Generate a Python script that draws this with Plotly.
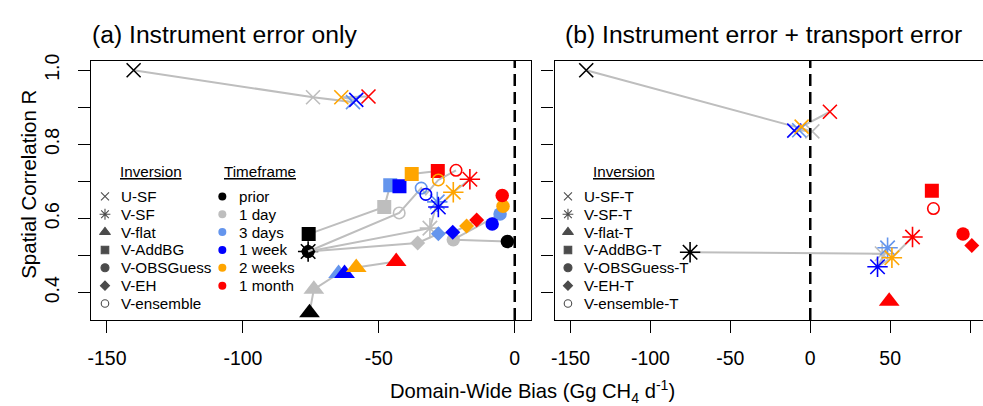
import plotly.graph_objects as go

# ---------------- data ----------------
timeframes = ["prior", "1 day", "3 days", "1 week", "2 weeks", "1 month"]
tf_colors = ["#000000", "#BEBEBE", "#6495ED", "#0000FF", "#FFA500", "#FF0000"]

inversions_a = ["U-SF", "V-SF", "V-flat", "V-AddBG", "V-OBSGuess", "V-EH", "V-ensemble"]
inversions_b = ["U-SF-T", "V-SF-T", "V-flat-T", "V-AddBG-T", "V-OBSGuess-T", "V-EH-T", "V-ensemble-T"]

# panel (a): instrument error only  (order: prior, 1 day, 3 days, 1 week, 2 weeks, 1 month)
usf_bias_a = [-140.2, -74.2, -59.5, -58.3, -63.8, -53.8]
usf_r_a = [1.000, 0.927, 0.914, 0.920, 0.927, 0.929]
vsf_bias_a = [-76.0, -31.2, -28.5, -28.1, -22.6, -16.5]
vsf_r_a = [0.511, 0.574, 0.645, 0.631, 0.671, 0.706]
vflat_bias_a = [-75.5, -73.9, -64.8, -62.6, -58.3, -43.6]
vflat_r_a = [0.346, 0.409, 0.452, 0.452, 0.468, 0.484]
vaddbg_bias_a = [-75.8, -48.0, -45.8, -42.4, -37.9, -28.3]
vaddbg_r_a = [0.558, 0.631, 0.690, 0.687, 0.720, 0.728]
vobs_bias_a = [-2.7, -22.6, -5.4, -8.3, -4.3, -4.6]
vobs_r_a = [0.538, 0.543, 0.612, 0.585, 0.633, 0.662]
veh_bias_a = [-76.0, -35.7, -28.1, -22.8, -17.7, -14.0]
veh_r_a = [0.511, 0.534, 0.559, 0.563, 0.580, 0.596]
vens_bias_a = [-76.0, -42.5, -34.4, -32.7, -28.1, -21.6]
vens_r_a = [0.511, 0.615, 0.682, 0.665, 0.704, 0.730]

# panel (b): instrument error + transport error
usf_bias_b = [-140.2, 1.3, -6.9, -10.0, -5.4, 12.3]
usf_r_b = [1.000, 0.835, 0.838, 0.837, 0.848, 0.888]
vsf_bias_b = [-75.2, 45.0, 48.4, 42.1, 51.1, 64.0]
vsf_r_b = [0.509, 0.505, 0.521, 0.470, 0.494, 0.550]
vflat_bias_b = [None, None, None, None, None, 49.4]
vflat_r_b = [None, None, None, None, None, 0.377]
vaddbg_bias_b = [None, None, None, None, None, 76.1]
vaddbg_r_b = [None, None, None, None, None, 0.675]
vobs_bias_b = [None, None, None, None, None, 95.6]
vobs_r_b = [None, None, None, None, None, 0.558]
veh_bias_b = [None, None, None, None, None, 101.1]
veh_r_b = [None, None, None, None, None, 0.527]
vens_bias_b = [None, None, None, None, None, 77.1]
vens_r_b = [None, None, None, None, None, 0.627]

x_ticks_a = [-150, -100, -50, 0]
x_ticks_b = [-150, -100, -50, 0, 50, 100]
y_ticks = [0.4, 0.6, 0.8, 1.0]
y_ticktext = ["0.4", "0.6", "0.8", "1.0"]

# ---------------- styles ----------------
FONT = "Liberation Sans, Arial, Helvetica, sans-serif"
W, H = 983, 406
GREY_LINE = "#BEBEBE"

symbols = ["x-thin-open", "asterisk-open", "triangle-up", "square", "circle", "diamond", "circle-open"]
sizes = [14, 17, 18, 14, 13.5, 11.5, 11.5]
open_sym = [True, True, False, False, False, False, True]
leg_sizes = [8, 9, 9.5, 7.5, 8, 7, 7.5]

panel_a = [(usf_bias_a, usf_r_a), (vsf_bias_a, vsf_r_a), (vflat_bias_a, vflat_r_a),
           (vaddbg_bias_a, vaddbg_r_a), (vobs_bias_a, vobs_r_a), (veh_bias_a, veh_r_a),
           (vens_bias_a, vens_r_a)]
panel_b = [(usf_bias_b, usf_r_b), (vsf_bias_b, vsf_r_b), (vflat_bias_b, vflat_r_b),
           (vaddbg_bias_b, vaddbg_r_b), (vobs_bias_b, vobs_r_b), (veh_bias_b, veh_r_b),
           (vens_bias_b, vens_r_b)]

fig = go.Figure()


def add_panel(data, names, xa, ya):
    for i, (bx, ry) in enumerate(data):
        fig.add_trace(go.Scatter(x=bx, y=ry, mode="lines", xaxis=xa, yaxis=ya,
                                 line=dict(color=GREY_LINE, width=2),
                                 connectgaps=False, showlegend=False, hoverinfo="skip"))
        fig.add_trace(go.Scatter(
            x=bx, y=ry, mode="markers", xaxis=xa, yaxis=ya, name=names[i],
            text=timeframes, showlegend=False,
            marker=dict(symbol=symbols[i], size=sizes[i], color=tf_colors,
                        line=dict(width=1.6 if open_sym[i] else 0, color=tf_colors))))


add_panel(panel_a, inversions_a, "x", "y")
add_panel(panel_b, inversions_b, "x2", "y2")

# ---------------- legends (overlay pixel axis) ----------------
ROW0, ROW_STEP = 192.7, 18.17
HEADER_Y = 167.7
rows = [ROW0 + i * ROW_STEP for i in range(7)]
LEG_A_SYM_X, LEG_A_TXT_X, LEG_A_HEAD_X = 102.3, 116.0, 148.5
LEG_T_SYM_X, LEG_T_TXT_X, LEG_T_HEAD_X = 220.0, 234.3, 258.0
LEG_B_SYM_X, LEG_B_TXT_X, LEG_B_HEAD_X = 566.7, 580.7, 622.7
LEG_FONT = 15.2

for sx in (LEG_A_SYM_X, LEG_B_SYM_X):
    fig.add_trace(go.Scatter(
        x=[sx] * 7, y=rows, mode="markers", xaxis="x3", yaxis="y3", showlegend=False,
        hoverinfo="skip",
        marker=dict(symbol=symbols, size=leg_sizes, color="black",
                    line=dict(width=1.1, color="black"))))
fig.add_trace(go.Scatter(
    x=[LEG_T_SYM_X] * 6, y=rows[:6], mode="markers", xaxis="x3", yaxis="y3",
    showlegend=False, hoverinfo="skip",
    marker=dict(symbol="circle", size=8, color=tf_colors, line=dict(width=0))))

annotations = []


def pix_text(x, y, text, size, xanchor="left", **kw):
    annotations.append(dict(x=x, y=y, xref="x3", yref="y3", text=text, showarrow=False,
                            xanchor=xanchor, yanchor="middle",
                            font=dict(family=FONT, size=size, color="black"), **kw))


for i, nm in enumerate(inversions_a):
    pix_text(LEG_A_TXT_X, rows[i], nm, LEG_FONT)
for i, nm in enumerate(timeframes):
    pix_text(LEG_T_TXT_X, rows[i], nm, LEG_FONT)
for i, nm in enumerate(inversions_b):
    pix_text(LEG_B_TXT_X, rows[i], nm, LEG_FONT)
pix_text(LEG_A_HEAD_X, HEADER_Y, "<u>Inversion</u>", LEG_FONT, xanchor="center")
pix_text(LEG_T_HEAD_X, HEADER_Y, "<u>Timeframe</u>", LEG_FONT, xanchor="center")
pix_text(LEG_B_HEAD_X, HEADER_Y, "<u>Inversion</u>", LEG_FONT, xanchor="center")

# titles and axis titles
pix_text(87, 27.5, "(a) Instrument error only", 24.7)
pix_text(562, 27.5, "(b) Instrument error + transport error", 24.7)
pix_text(531, 391, "Domain-Wide Bias (Gg CH<sub>4</sub> d<sup>-1</sup>)", 20.2, xanchor="center")
pix_text(26, 180, "Spatial Correlation R", 20.5, xanchor="center", textangle=-90)

# ---------------- shapes ----------------
shapes = [
    dict(type="line", xref="x", yref="y domain", x0=0, x1=0, y0=0, y1=1,
         line=dict(color="black", width=2.5, dash="12px,6px")),
    dict(type="line", xref="x2", yref="y2 domain", x0=0, x1=0, y0=0, y1=1,
         line=dict(color="black", width=2.5, dash="12px,6px")),
]

# ---------------- axes ----------------
px_a = 2.7267
a_left = (104.3 - 6 * px_a) / W
a_right = (513.3 + 6 * px_a) / W
px_b = 1.6028
b_left = (569.3 - 10 * px_b) / W
b_xmax = -160 + (W - 569.3 + 10 * px_b) / px_b
y_dom = [(H - 318.6) / H, (H - 54.9) / H]

tickfont = dict(family=FONT, size=19.5, color="black")
common = dict(showgrid=False, zeroline=False, ticks="outside", ticklen=12, tickwidth=1.2,
              tickcolor="black", showline=True, linecolor="black", linewidth=1.3,
              tickfont=tickfont)
y_minor = dict(ticks="outside", ticklen=12, tickwidth=1.2, tickcolor="black",
               tick0=0.4, dtick=0.1, showgrid=False)
fig.update_layout(
    xaxis=dict(domain=[a_left, a_right], range=[-156, 6], tickvals=x_ticks_a,
               ticktext=[str(v) for v in x_ticks_a], mirror=True, anchor="y",
               ticklabelstandoff=8, **common),
    yaxis=dict(domain=y_dom, range=[0.326, 1.025], tickvals=y_ticks, ticktext=y_ticktext,
               tickangle=-90, mirror=True, anchor="x", ticklabelstandoff=11,
               minor=y_minor, **common),
    xaxis2=dict(domain=[b_left, 1.0], range=[-160, b_xmax], tickvals=x_ticks_b,
                ticktext=[str(v) for v in x_ticks_b], mirror=True, anchor="y2",
                ticklabelstandoff=8, **common),
    yaxis2=dict(domain=y_dom, range=[0.326, 1.025], tickvals=y_ticks, showticklabels=False,
                mirror=False, anchor="x2", minor=y_minor, **common),
    xaxis3=dict(domain=[0, 1], range=[0, W], visible=False, anchor="y3", fixedrange=True),
    yaxis3=dict(domain=[0, 1], range=[H, 0], visible=False, anchor="x3", fixedrange=True),
    width=W, height=H,
    margin=dict(l=0, r=0, t=0, b=0),
    paper_bgcolor="white", plot_bgcolor="rgba(0,0,0,0)",
    showlegend=False,
    annotations=annotations,
    shapes=shapes,
    font=dict(family=FONT, color="black"),
)

fig.write_html("out.html", config={"displayModeBar": False},
               post_script="document.body.style.margin='0';document.body.style.overflow='hidden';")
